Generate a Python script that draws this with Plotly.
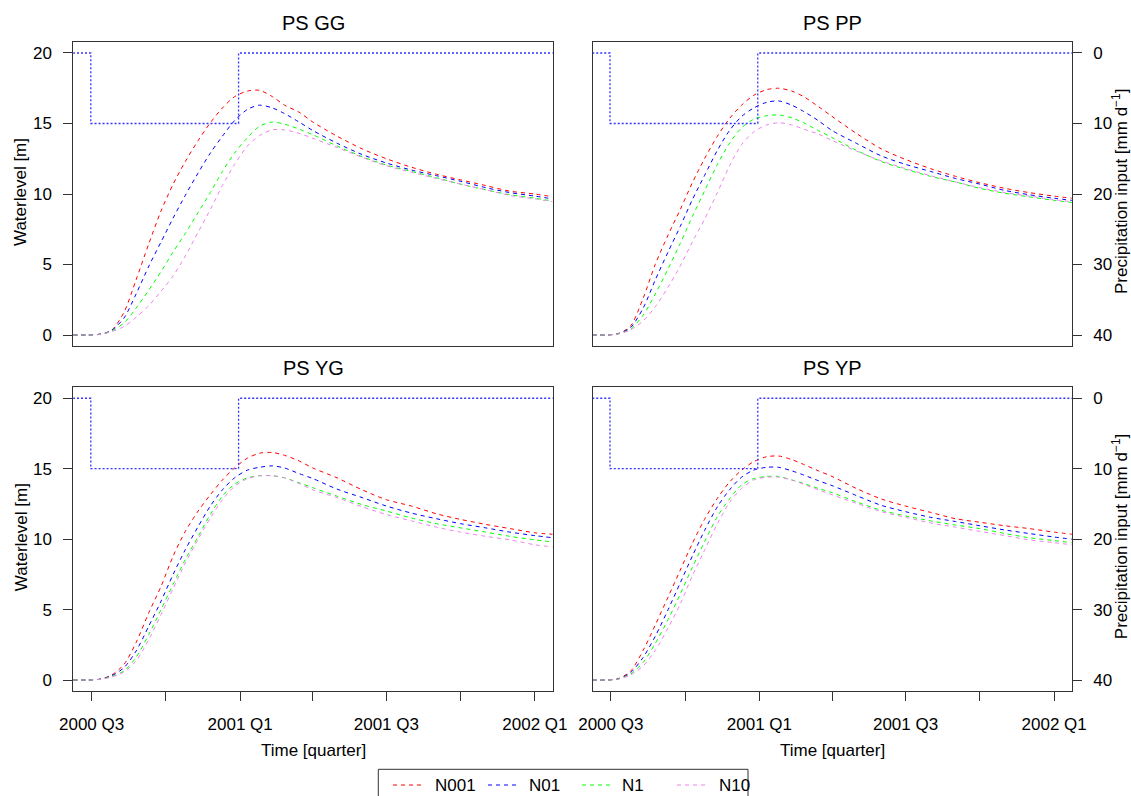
import plotly.graph_objects as go

# ---------------- data ----------------
dates = ["2000-06-08", "2000-06-25", "2000-07-10", "2000-07-25", "2000-08-10", "2000-08-25",
         "2000-09-10", "2000-09-25", "2000-10-10", "2000-10-25", "2000-11-10", "2000-11-25",
         "2000-12-10", "2000-12-25", "2001-01-10", "2001-01-25", "2001-02-10", "2001-02-25",
         "2001-03-15", "2001-04-01", "2001-05-01", "2001-06-01", "2001-07-01", "2001-08-01",
         "2001-09-01", "2001-10-01", "2001-11-01", "2001-12-01", "2002-01-01", "2002-01-23"]

gg_n001 = [0, 0, 0.05, 0.3, 1.6, 3.9, 6.5, 8.8, 10.7, 12.3, 13.8, 15.05, 16.1, 16.9, 17.3, 17.35,
           16.9, 16.3, 15.8, 15.1, 14.1, 13.2, 12.5, 11.9, 11.4, 11.0, 10.6, 10.2, 10.0, 9.8]
gg_n01 = [0, 0, 0.05, 0.3, 1.2, 2.9, 4.9, 6.6, 8.3, 9.9, 11.5, 12.9, 14.1, 15.2, 16.0, 16.3,
          16.1, 15.7, 15.1, 14.5, 13.6, 12.8, 12.2, 11.7, 11.3, 10.9, 10.45, 10.1, 9.85, 9.65]
gg_n1 = [0, 0, 0.04, 0.26, 0.85, 1.9, 3.2, 4.5, 5.9, 7.2, 8.7, 10.1, 11.6, 12.9, 14.0, 14.8,
         15.1, 14.95, 14.6, 14.2, 13.4, 12.65, 12.05, 11.6, 11.15, 10.7, 10.3, 9.95, 9.7, 9.5]
gg_n10 = [0, 0, 0.03, 0.22, 0.6, 1.25, 2.1, 3.1, 4.2, 5.6, 7.3, 8.9, 10.6, 12.1, 13.4, 14.15,
          14.55, 14.55, 14.3, 13.95, 13.3, 12.6, 12.0, 11.55, 11.1, 10.7, 10.3, 9.9, 9.65, 9.45]

pp_n001 = [0, 0, 0.1, 0.6, 2.6, 5.0, 7.1, 8.9, 10.8, 12.5, 14.1, 15.35, 16.3, 17.0, 17.4, 17.5,
           17.3, 16.9, 16.2, 15.5, 14.3, 13.2, 12.45, 11.8, 11.25, 10.8, 10.4, 10.1, 9.85, 9.7]
pp_n01 = [0, 0, 0.1, 0.5, 1.9, 3.9, 5.9, 7.7, 9.6, 11.3, 13.1, 14.5, 15.5, 16.1, 16.5, 16.6,
          16.3, 15.85, 15.2, 14.5, 13.6, 12.7, 12.1, 11.6, 11.1, 10.7, 10.25, 9.95, 9.7, 9.55]
pp_n1 = [0, 0, 0.08, 0.4, 1.4, 2.9, 4.7, 6.5, 8.4, 10.2, 12.1, 13.6, 14.7, 15.3, 15.55, 15.6,
         15.4, 15.05, 14.5, 14.0, 13.1, 12.3, 11.75, 11.25, 10.85, 10.4, 10.05, 9.8, 9.55, 9.4]
pp_n10 = [0, 0, 0.07, 0.35, 1.0, 2.0, 3.4, 4.9, 6.6, 8.2, 10.1, 12.0, 13.5, 14.4, 14.9, 15.05,
          14.9, 14.6, 14.25, 13.8, 13.05, 12.35, 11.8, 11.3, 10.85, 10.45, 10.1, 9.85, 9.6, 9.45]

yg_n001 = [0, 0, 0.05, 0.33, 1.1, 2.65, 4.8, 6.65, 8.8, 10.55, 12.0, 13.15, 14.2, 15.05, 15.75, 16.1,
           16.15, 15.95, 15.55, 15.05, 14.35, 13.5, 12.8, 12.35, 11.8, 11.4, 11.05, 10.75, 10.45, 10.35]
yg_n01 = [0, 0, 0.05, 0.28, 0.87, 2.05, 3.85, 5.6, 7.5, 9.25, 10.9, 12.35, 13.5, 14.35, 14.9, 15.1,
          15.2, 15.05, 14.65, 14.3, 13.55, 12.95, 12.35, 11.85, 11.45, 11.1, 10.8, 10.5, 10.25, 10.1]
yg_n1 = [0, 0, 0.04, 0.24, 0.64, 1.6, 3.25, 5.0, 6.8, 8.55, 10.2, 11.75, 13.05, 13.9, 14.35, 14.5,
         14.5, 14.35, 14.0, 13.65, 13.05, 12.45, 12.0, 11.5, 11.1, 10.8, 10.5, 10.2, 9.95, 9.8]
yg_n10 = [0, 0, 0.04, 0.2, 0.57, 1.35, 2.9, 4.65, 6.5, 8.3, 10.0, 11.5, 12.8, 13.75, 14.3, 14.5,
          14.5, 14.35, 13.95, 13.5, 12.95, 12.3, 11.75, 11.3, 10.85, 10.5, 10.2, 9.95, 9.6, 9.45]

yp_n001 = [0, 0, 0.1, 0.6, 2.1, 3.9, 5.9, 7.8, 9.7, 11.4, 12.9, 14.05, 14.9, 15.5, 15.85, 15.9,
           15.65, 15.3, 14.85, 14.45, 13.6, 12.85, 12.35, 11.9, 11.45, 11.2, 10.95, 10.75, 10.5, 10.35]
yp_n01 = [0, 0, 0.08, 0.5, 1.6, 3.1, 5.0, 6.9, 8.8, 10.6, 12.3, 13.5, 14.4, 14.9, 15.1, 15.1,
          14.85, 14.55, 14.15, 13.8, 13.1, 12.4, 11.95, 11.55, 11.25, 10.95, 10.65, 10.4, 10.15, 10.0]
yp_n1 = [0, 0, 0.07, 0.4, 1.25, 2.6, 4.3, 6.1, 8.0, 9.8, 11.6, 12.85, 13.85, 14.3, 14.45, 14.45,
         14.2, 13.95, 13.6, 13.3, 12.65, 12.05, 11.65, 11.3, 11.0, 10.75, 10.4, 10.1, 9.9, 9.75]
yp_n10 = [0, 0, 0.06, 0.35, 1.0, 2.1, 3.7, 5.4, 7.4, 9.2, 11.1, 12.6, 13.6, 14.2, 14.4, 14.4,
          14.2, 13.9, 13.5, 13.15, 12.55, 11.95, 11.55, 11.15, 10.85, 10.55, 10.25, 9.95, 9.75, 9.6]

precip_dates = ["2000-06-08", "2000-06-30", "2000-12-30", "2002-01-23"]
precip_vals = [0, 10, 0, 0]

series_names = ["N001", "N01", "N1", "N10"]
series_colors = ["#FF0000", "#0000FF", "#00FF00", "#EE82EE"]
panel_titles = ["PS GG", "PS PP", "PS YG", "PS YP"]

x_tickvals = ["2000-07-01", "2000-10-01", "2001-01-01", "2001-04-01",
              "2001-07-01", "2001-10-01", "2002-01-01"]
x_ticktext = ["2000 Q3", "", "2001 Q1", "", "2001 Q3", "", "2002 Q1"]
wl_ticks = [0, 5, 10, 15, 20]
pr_ticks = [0, 10, 20, 30, 40]

panel_data = [
    [gg_n001, gg_n01, gg_n1, gg_n10],
    [pp_n001, pp_n01, pp_n1, pp_n10],
    [yg_n001, yg_n01, yg_n1, yg_n10],
    [yp_n001, yp_n01, yp_n1, yp_n10],
]

# ---------------- layout geometry (pixels) ----------------
W, H = 1131, 796
col_x = [(73.3, 552.7), (592.5, 1071.9)]
row_y = [(41.7, 346.3), (387.0, 691.3)]

def px_x(v):
    return v / W

def px_y(v):
    return 1 - v / H

FONT = "Liberation Sans, Arial, sans-serif"
TICK_FONT = dict(size=17, family=FONT, color="black")
LABEL_FONT = dict(size=17, family=FONT, color="black")
fig = go.Figure()
layout = dict(
    width=W, height=H, margin=dict(l=0, r=0, t=0, b=0, autoexpand=False),
    paper_bgcolor="white", plot_bgcolor="white", showlegend=False,
    font=dict(family=FONT, size=17, color="black"),
)
annotations = []
shapes = []

for i in range(4):
    r, c = divmod(i, 2)
    xs = "" if i == 0 else str(i + 1)
    yw = "" if i == 0 else str(2 * i + 1)
    yp = str(2 * i + 2)
    for name, color, vals in zip(series_names, series_colors, panel_data[i]):
        fig.add_trace(go.Scatter(
            x=dates, y=vals, name=name, mode="lines",
            line=dict(color=color, width=1, dash="4px,4px", shape="spline", smoothing=0.8),
            xaxis="x" + xs, yaxis="y" + yw, hoverinfo="skip"))
    fig.add_trace(go.Scatter(
        x=precip_dates, y=precip_vals, name="Precipitation", mode="lines",
        line=dict(color="#3333FF", width=1.3, dash="2px,2px", shape="hv"),
        xaxis="x" + xs, yaxis="y" + yp, hoverinfo="skip"))

    x0, x1 = col_x[c]
    ytop, ybot = row_y[r]
    bottom = (r == 1)
    layout["xaxis" + xs] = dict(
        domain=[px_x(x0), px_x(x1)], anchor="y" + yw, type="date", automargin=False,
        range=["2000-06-08 08:00", "2002-01-23 00:00"],
        tickmode="array", tickvals=x_tickvals, ticktext=x_ticktext,
        ticks="outside" if bottom else "", ticklen=9, tickcolor="#333333",
        showticklabels=bottom, tickfont=TICK_FONT,
        ticklabelstandoff=8,
        showline=True, mirror=True, linecolor="#333333", linewidth=1,
        showgrid=False, zeroline=False)
    left = (c == 0)
    layout["yaxis" + yw] = dict(
        domain=[px_y(ybot), px_y(ytop)], anchor="x" + xs, automargin=False,
        range=[-0.8, 20.8], tickmode="array", tickvals=wl_ticks,
        ticks="outside" if left else "", ticklen=9, tickcolor="#333333",
        showticklabels=left, tickfont=TICK_FONT,
        ticklabelstandoff=8,
        showline=True, mirror=True, linecolor="#333333", linewidth=1,
        showgrid=False, zeroline=False)
    layout["yaxis" + yp] = dict(
        overlaying="y" + yw, anchor="x" + xs, side="right", automargin=False,
        range=[41.6, -1.6], tickmode="array", tickvals=pr_ticks,
        ticks="outside", ticklen=9, tickcolor="#333333",
        tickfont=TICK_FONT, ticklabelstandoff=8,
        showgrid=False, zeroline=False, showline=False,
        visible=not left)

    # panel title
    annotations.append(dict(
        text=panel_titles[i], xref="paper", yref="paper",
        x=px_x((x0 + x1) / 2), y=px_y(ytop - 19), xanchor="center", yanchor="middle",
        showarrow=False, font=dict(size=20, family=FONT, color="black")))
    if bottom:
        annotations.append(dict(
            text="Time [quarter]", xref="paper", yref="paper",
            x=px_x((x0 + x1) / 2), y=px_y(750), xanchor="center", yanchor="middle",
            showarrow=False, font=LABEL_FONT))
    if left:
        annotations.append(dict(
            text="Waterlevel [m]", xref="paper", yref="paper", textangle=-90,
            x=px_x(21), y=px_y((ytop + ybot) / 2 - 2), xanchor="center", yanchor="middle",
            showarrow=False, font=LABEL_FONT))
    else:
        annotations.append(dict(
            text="Precipitation input [mm d<sup>\u22121</sup>]", xref="paper", yref="paper",
            textangle=-90, x=px_x(1120), y=px_y((ytop + ybot) / 2 - 2),
            xanchor="center", yanchor="middle",
            showarrow=False, font=LABEL_FONT))

# ---------------- legend (bottom, boxed) ----------------
shapes.append(dict(type="rect", xref="paper", yref="paper",
                   x0=px_x(378.3), x1=px_x(748), y0=px_y(769.3), y1=px_y(820),
                   line=dict(color="#333333", width=1), fillcolor="rgba(0,0,0,0)"))
leg_line_x = [(393, 425), (488, 518), (582, 612), (677, 709)]
leg_text_x = [433, 527, 620, 717]
for (lx0, lx1), tx, name, color in zip(leg_line_x, leg_text_x, series_names, series_colors):
    shapes.append(dict(type="line", xref="paper", yref="paper",
                       x0=px_x(lx0), x1=px_x(lx1), y0=px_y(785), y1=px_y(785),
                       line=dict(color=color, width=1, dash="4px,4px")))
    annotations.append(dict(text=name, xref="paper", yref="paper",
                            x=px_x(tx), y=px_y(785), xanchor="left", yanchor="middle",
                            showarrow=False, font=LABEL_FONT))

layout["annotations"] = annotations
layout["shapes"] = shapes
fig.update_layout(**layout)
fig.write_html("out.html")
